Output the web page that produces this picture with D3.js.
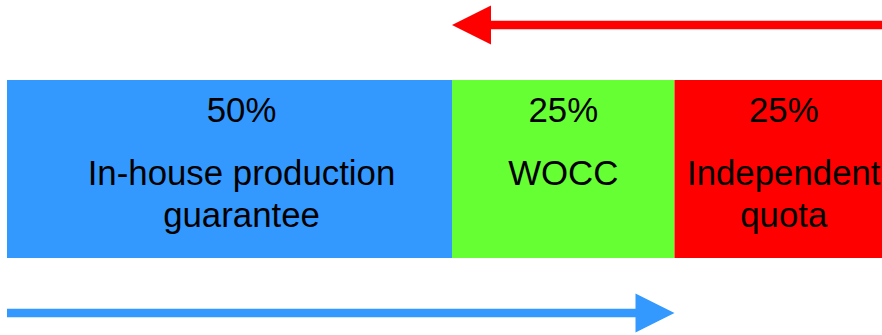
<!DOCTYPE html>
<html>
<head>
<meta charset="utf-8">
<script src="https://cdn.jsdelivr.net/npm/d3@7"></script>
<style>
  html, body { margin: 0; padding: 0; background: #fff; overflow: hidden; }
  svg { display: block; }
</style>
</head>
<body>
<script>
// ---- data ----
const categories = ["In-house production guarantee", "WOCC", "Independent quota"];
const labelLines = [["In-house production", "guarantee"], ["WOCC"], ["Independent", "quota"]];
const shares = [50, 25, 25];
const shareLabels = ["50%", "25%", "25%"];
const colors = ["#3399ff", "#66ff33", "#ff0000"];
// arrows: [from, to] in cumulative percent
const redArrow = [100, 50];
const blueArrow = [0, 75];

const W = 882, H = 335;
const svg = d3.select("body").append("svg").attr("width", W).attr("height", H);

const x = d3.scaleLinear().domain([0, 100]).range([7, 897]);
const y = d3.scaleBand().domain(["bar"]).range([80, 258]).padding(0);

let cum = 0;
const segs = shares.map((v, i) => { const s = { i, start: cum, end: cum + v }; cum += v; return s; });

svg.selectAll("rect.seg").data(segs).enter().append("rect")
  .attr("class", "seg")
  .attr("x", d => x(d.start))
  .attr("y", y("bar"))
  .attr("width", d => x(d.end) - x(d.start))
  .attr("height", y.bandwidth())
  .attr("fill", d => colors[d.i]);

const font = "'Liberation Sans', Arial, Helvetica, sans-serif";
const fs = 34.8;
const labelShift = [12, 0, -2];
const g = svg.selectAll("g.lab").data(segs).enter().append("g").attr("class", "lab")
  .attr("transform", d => `translate(${(x(d.start) + x(d.end)) / 2 + labelShift[d.i]},0)`);
g.append("text")
  .attr("y", 122)
  .attr("text-anchor", "middle")
  .attr("font-family", font).attr("font-size", fs).attr("fill", "#000")
  .text(d => shareLabels[d.i]);
g.each(function(d) {
  const sel = d3.select(this);
  labelLines[d.i].forEach((ln, k) => {
    sel.append("text")
      .attr("y", 185 + k * 42)
      .attr("text-anchor", "middle")
      .attr("font-family", font).attr("font-size", fs).attr("fill", "#000")
      .text(ln);
  });
});

function arrow(from, to, cy, color) {
  const x0 = x(from), x1 = x(to);
  const dir = Math.sign(x1 - x0);
  const headLen = 39, headHalf = 19.5, half = 4.2;
  const xb = x1 - dir * headLen;
  const pts = [
    [x0, cy - half], [xb, cy - half], [xb, cy - headHalf], [x1, cy],
    [xb, cy + headHalf], [xb, cy + half], [x0, cy + half]
  ];
  svg.append("path").attr("d", d3.line()(pts) + "Z").attr("fill", color);
}
arrow(redArrow[0], redArrow[1], 25, colors[2]);
arrow(blueArrow[0], blueArrow[1], 313, colors[0]);
</script>
</body>
</html>
